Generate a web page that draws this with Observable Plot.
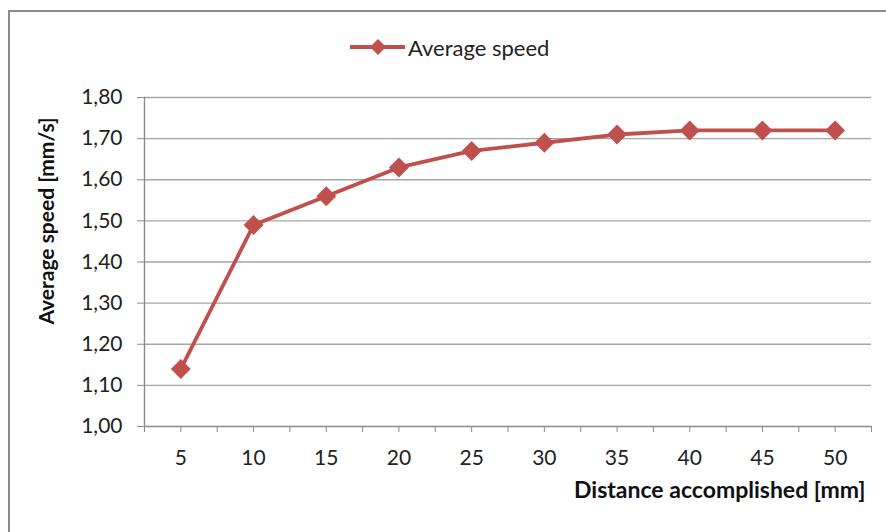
<!DOCTYPE html>
<html>
<head>
<meta charset="utf-8">
<script src="https://cdn.jsdelivr.net/npm/d3@7"></script>
<script src="https://cdn.jsdelivr.net/npm/@observablehq/plot@0.6"></script>
<style>
  html, body { margin: 0; padding: 0; background: #fff; overflow: hidden; }
  #wrap { position: relative; width: 886px; height: 532px; font-family: Lato, "Open Sans", sans-serif; }
  #frame { position: absolute; left: 8px; top: 10px; width: 900px; height: 540px;
           border-top: 2px solid #8c8c8c; border-left: 2px solid #8c8c8c; pointer-events: none; }
  #legend { position: absolute; left: 348px; top: 33px; height: 28px; display: flex; align-items: center;
            font-size: 22px; color: #222; }
  #legend svg { display: block; margin-right: 2px; }
  #chart { position: absolute; left: 0; top: 0; }
</style>
</head>
<body>
<div id="wrap">
  <div id="chart"></div>
  <div id="frame"></div>
  <div id="legend"></div>
</div>
<script>
// ---- data ----
const distances = [5, 10, 15, 20, 25, 30, 35, 40, 45, 50];
const speeds = [1.14, 1.49, 1.56, 1.63, 1.67, 1.69, 1.71, 1.72, 1.72, 1.72];
const yTicks = [1.0, 1.1, 1.2, 1.3, 1.4, 1.5, 1.6, 1.7, 1.8];
const seriesName = "Average speed";
const xTitle = "Distance accomplished [mm]";
const yTitle = "Average speed [mm/s]";

const color = "#C0504D";
const data = distances.map((d, i) => ({distance: d, speed: speeds[i]}));
// category boundaries and centres (Excel-style tick marks)
const tickMarks = [distances[0] - 2.5, ...distances.flatMap(d => [d, d + 2.5])];
const fmt = d => d3.format(".2f")(d).replace(".", ",");

const chart = Plot.plot({
  width: 886,
  height: 532,
  marginLeft: 144,
  marginRight: 15,
  marginTop: 97,
  marginBottom: 106,
  style: {fontFamily: "Lato, 'Open Sans', sans-serif", fontSize: "21px", color: "#222", background: "transparent"},
  x: {domain: [distances[0] - 2.5, distances[distances.length - 1] + 2.5]},
  y: {domain: [yTicks[0], yTicks[yTicks.length - 1]]},
  marks: [
    Plot.ruleY(yTicks.slice(1), {stroke: "#a6a6a6", strokeWidth: 1.4}),
    Plot.ruleY([yTicks[0]], {stroke: "#8c8c8c", strokeWidth: 1.4}),
    Plot.ruleX([distances[0] - 2.5], {stroke: "#8c8c8c", strokeWidth: 1.4}),
    Plot.axisY({ticks: yTicks, tickFormat: fmt, tickSize: 7, tickPadding: 15, stroke: "#8c8c8c", label: null, fontSize: 21}),
    Plot.axisX({ticks: tickMarks, tickFormat: () => "", tickSize: 6, stroke: "#8c8c8c", label: null}),
    Plot.axisX({ticks: distances, tickFormat: d => String(d), tickSize: 0, tickPadding: 24, label: null, fontSize: 21}),
    Plot.line(data, {x: "distance", y: "speed", stroke: color, strokeWidth: 3.8}),
    Plot.dot(data, {x: "distance", y: "speed", symbol: "diamond2", r: 9, fill: color, stroke: "none"}),
    Plot.text([yTitle], {frameAnchor: "left", rotate: -90, dx: -97, dy: -41, fontWeight: "bold", fontSize: 21, fill: "#111", textAnchor: "middle"}),
    Plot.text([xTitle], {frameAnchor: "bottom-right", dx: -6, dy: 71, fontWeight: "bold", fontSize: 23, fill: "#111", textAnchor: "end"})
  ]
});
document.getElementById("chart").appendChild(chart);

// legend
const legend = document.getElementById("legend");
legend.innerHTML = `<svg width="58" height="28"><line x1="2" y1="14" x2="57" y2="14" stroke="${color}" stroke-width="3.8"/><path d="M30,6 L38,14 L30,22 L22,14 Z" fill="${color}"/></svg><span>${seriesName}</span>`;
</script>
</body>
</html>
